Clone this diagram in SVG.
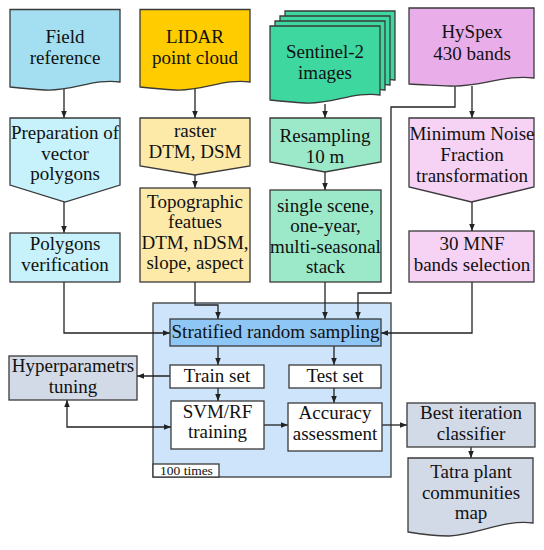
<svg xmlns="http://www.w3.org/2000/svg" width="544" height="550" viewBox="0 0 544 550">
<defs>
<marker id="ah" viewBox="0 0 10 10" refX="10" refY="5" markerWidth="7" markerHeight="7" markerUnits="userSpaceOnUse" orient="auto-start-reverse">
<path d="M0,1 L10,5 L0,9 z" fill="#222"/>
</marker>
</defs>
<style>
.s{stroke:#3a3a3a;stroke-width:1.3}
.t{font-family:"Liberation Serif","DejaVu Serif",serif;font-size:19px;fill:#111;text-anchor:middle}
.c{fill:none;stroke:#222;stroke-width:1.3;marker-end:url(#ah)}
.field{fill:#a3dff0}.fieldl{fill:#c7f1fb}
.lidar{fill:#ffcc00}.lidarl{fill:#fde9a8}
.sent{fill:#3fd7a0}.sentl{fill:#9be9c8}
.hys{fill:#e9aee9}.hysl{fill:#f6d2f4}
.grey{fill:#d3dae7}
</style>
<rect width="544" height="550" fill="#fff"/>

<g id="container">
<rect x="153" y="303" width="238" height="174" fill="#cde4fa" class="s"/>
<rect x="153" y="464" width="66" height="13" fill="#fff" class="s"/>
<text x="160" y="474.5" style="font-family:'Liberation Serif',serif;font-size:13.5px;fill:#111">100 times</text>
</g>

<g id="connectors">
<path class="c" d="M64,88 V118"/>
<path class="c" d="M195,88 V118"/>
<path class="c" d="M325,104 V118"/>
<path class="c" d="M472,86 V118"/>
<path class="c" d="M64,202 V233"/>
<path class="c" d="M195,175 V188"/>
<path class="c" d="M325,172 V190"/>
<path class="c" d="M472,202 V231"/>
<path class="c" d="M64,282 V333 H170"/>
<path class="c" d="M195,282 V305 H218 V319"/>
<path class="c" d="M325,282 V319"/>
<path class="c" d="M455,85 V107 H391 V293 H358 V319"/>
<path class="c" d="M472,282 V333 H381"/>
<path class="c" d="M218,346 V365"/>
<path class="c" d="M334,346 V365"/>
<path class="c" d="M218,388 V401"/>
<path class="c" d="M334,388 V403"/>
<path class="c" d="M170,376 H137"/>
<path class="c" d="M67,400 V427 H171" style="marker-start:url(#ah)"/>
<path class="c" d="M264,425 H288"/>
<path class="c" d="M382,425 H407"/>
<path class="c" d="M471,447 V458"/>
</g>

<g id="field-reference">
<path class="s field" d="M10,9.5 H120 V82 C95,78 70,92 45,90 C30,89 20,88 10,87 Z"/>
<text class="t" x="65" y="43">Field</text>
<text class="t" x="65" y="64">reference</text>
</g>

<g id="lidar">
<path class="s lidar" d="M140,9.5 H250 V82 C225,78 200,92 175,90 C160,89 150,88 140,87 Z"/>
<text class="t" x="195" y="43">LIDAR</text>
<text class="t" x="195" y="64">point cloud</text>
</g>

<g id="sentinel">
<path class="s sent" d="M285,11 H395 V80 C370,76 345,90 320,88 C305,87 295,86 285,85 Z"/>
<path class="s sent" d="M280,16 H390 V85 C365,81 340,95 315,93 C300,92 290,91 280,90 Z"/>
<path class="s sent" d="M275,21 H385 V90 C360,86 335,100 310,98 C295,97 285,96 275,95 Z"/>
<path class="s sent" d="M270,26 H380 V95 C355,91 330,105 305,103 C290,102 280,101 270,100 Z"/>
<text class="t" x="325" y="58">Sentinel-2</text>
<text class="t" x="325" y="79">images</text>
</g>

<g id="hyspex">
<path class="s hys" d="M409,8 H534 V78 C506,74 478,88 450,86 C433,85 421,85 409,84 Z"/>
<text class="t" x="472" y="38">HySpex</text>
<text class="t" x="472" y="60">430 bands</text>
</g>

<g id="preparation">
<path class="s fieldl" d="M10,118 H120 V185 L65,202 L10,185 Z"/>
<text class="t" x="65" y="139">Preparation of</text>
<text class="t" x="65" y="160">vector</text>
<text class="t" x="65" y="180">polygons</text>
</g>

<g id="raster">
<path class="s lidarl" d="M140,118 H250 V166 L195,175 L140,166 Z"/>
<text class="t" x="195" y="137">raster</text>
<text class="t" x="195" y="158">DTM, DSM</text>
</g>

<g id="resampling">
<path class="s sentl" d="M270,118 H381 V162 L325,172 L270,162 Z"/>
<text class="t" x="325" y="142">Resampling</text>
<text class="t" x="325" y="163">10 m</text>
</g>

<g id="mnf">
<path class="s hysl" d="M409,118 H534 V187 L471.5,202 L409,187 Z"/>
<text class="t" x="472" y="140">Minimum Noise</text>
<text class="t" x="472" y="161">Fraction</text>
<text class="t" x="472" y="182">transformation</text>
</g>

<g id="polygons-verification">
<rect class="s fieldl" x="10" y="233" width="110" height="49"/>
<text class="t" x="65" y="250">Polygons</text>
<text class="t" x="65" y="271">verification</text>
</g>

<g id="topographic">
<rect class="s lidarl" x="140" y="188" width="110" height="94"/>
<text class="t" x="195" y="208">Topographic</text>
<text class="t" x="195" y="228">featues</text>
<text class="t" x="195" y="249">DTM, nDSM,</text>
<text class="t" x="195" y="269">slope, aspect</text>
</g>

<g id="single-scene">
<rect class="s sentl" x="270" y="190" width="111" height="92"/>
<text class="t" x="325.5" y="212">single scene,</text>
<text class="t" x="325.5" y="232">one-year,</text>
<text class="t" x="325.5" y="253">multi-seasonal</text>
<text class="t" x="325.5" y="273">stack</text>
</g>

<g id="mnf-selection">
<rect class="s hysl" x="409" y="231" width="125" height="51"/>
<text class="t" x="472" y="250">30 MNF</text>
<text class="t" x="472" y="271">bands selection</text>
</g>

<g id="stratified">
<rect class="s" x="170" y="319" width="211" height="27" fill="#8ec6f5"/>
<text class="t" x="275.5" y="338">Stratified random sampling</text>
</g>

<g id="train-set">
<rect class="s" x="170" y="365" width="94" height="23" fill="#fff"/>
<text class="t" x="217" y="382">Train set</text>
</g>

<g id="test-set">
<rect class="s" x="289" y="365" width="92" height="23" fill="#fff"/>
<text class="t" x="335" y="382">Test set</text>
</g>

<g id="svm-rf">
<rect class="s" x="171" y="401" width="93" height="48" fill="#fff"/>
<text class="t" x="217.5" y="418">SVM/RF</text>
<text class="t" x="217.5" y="438">training</text>
</g>

<g id="accuracy">
<rect class="s" x="288" y="403" width="94" height="48" fill="#fff"/>
<text class="t" x="335" y="419">Accuracy</text>
<text class="t" x="335" y="440">assessment</text>
</g>

<g id="hyperparameters">
<rect class="s grey" x="9" y="356" width="128" height="44"/>
<text class="t" x="73" y="372">Hyperparametrs</text>
<text class="t" x="73" y="393">tuning</text>
</g>

<g id="best-iteration">
<rect class="s grey" x="407" y="403" width="128" height="44"/>
<text class="t" x="471" y="419">Best iteration</text>
<text class="t" x="471" y="440">classifier</text>
</g>

<g id="tatra-map">
<path class="s grey" d="M408,458 H533 V523 C505,519 477,535 449,536 C433,536 420,534 408,532 Z"/>
<text class="t" x="471" y="478">Tatra plant</text>
<text class="t" x="471" y="499">communities</text>
<text class="t" x="471" y="519">map</text>
</g>
</svg>
